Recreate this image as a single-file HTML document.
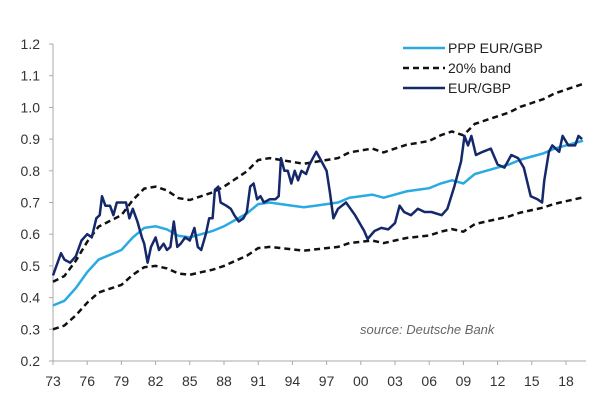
<!DOCTYPE html>
<html><head><meta charset="utf-8"><style>
body{margin:0;background:#fff;}
svg{display:block;font-family:"Liberation Sans",sans-serif;}
</style></head><body>
<svg id="chart" width="610" height="404" viewBox="0 0 610 404"></svg>
<script>
const yTicks=[0.2,0.3,0.4,0.5,0.6,0.7,0.8,0.9,1.0,1.1,1.2];
const xTickYears=[1973,1976,1979,1982,1985,1988,1991,1994,1997,2000,2003,2006,2009,2012,2015,2018];
const xTickLabels=["73","76","79","82","85","88","91","94","97","00","03","06","09","12","15","18"];
const pppYears=[1973,1974,1975,1976,1977,1978,1979,1980,1981,1982,1983,1984,1985,1986,1987,1988,1989,1990,1991,1992,1993,1994,1995,1996,1997,1998,1999,2000,2001,2002,2003,2004,2005,2006,2007,2008,2009,2010,2011,2012,2013,2014,2015,2016,2017,2018,2019.5];
const pppValues=[0.375,0.39,0.43,0.48,0.52,0.535,0.55,0.59,0.62,0.625,0.615,0.595,0.59,0.60,0.61,0.625,0.645,0.665,0.695,0.70,0.695,0.69,0.685,0.69,0.695,0.70,0.715,0.72,0.725,0.715,0.725,0.735,0.74,0.745,0.76,0.77,0.76,0.79,0.80,0.81,0.82,0.835,0.845,0.855,0.87,0.88,0.895];
const bandPct=0.2;
const fxYears=[1973.0,1973.3,1973.7,1974.0,1974.5,1975.0,1975.5,1976.0,1976.4,1976.8,1977.1,1977.3,1977.6,1978.0,1978.3,1978.6,1979.0,1979.4,1979.7,1980.0,1980.4,1980.8,1981.0,1981.3,1981.6,1982.0,1982.3,1982.7,1983.0,1983.3,1983.6,1983.9,1984.2,1984.6,1985.0,1985.4,1985.7,1986.0,1986.4,1986.7,1987.0,1987.2,1987.5,1987.7,1988.2,1988.6,1988.9,1989.3,1989.7,1990.0,1990.3,1990.6,1990.9,1991.2,1991.5,1992.0,1992.5,1992.8,1993.0,1993.3,1993.6,1993.9,1994.2,1994.5,1994.8,1995.2,1995.5,1995.8,1996.1,1996.4,1996.7,1997.0,1997.3,1997.6,1998.0,1998.7,1999.5,2000.3,2000.6,2001.2,2001.8,2002.4,2003.0,2003.4,2003.8,2004.4,2005.0,2005.6,2006.2,2007.1,2007.6,2008.2,2008.8,2009.1,2009.4,2009.7,2010.1,2010.7,2011.4,2012.0,2012.6,2013.2,2013.8,2014.3,2014.9,2015.5,2015.9,2016.1,2016.5,2016.8,2017.4,2017.7,2018.2,2018.8,2019.1,2019.4];
const fxValues=[0.47,0.50,0.54,0.52,0.51,0.53,0.58,0.60,0.59,0.65,0.66,0.72,0.69,0.69,0.66,0.70,0.70,0.70,0.65,0.68,0.64,0.59,0.57,0.51,0.56,0.59,0.55,0.57,0.55,0.56,0.64,0.56,0.57,0.59,0.58,0.62,0.56,0.55,0.60,0.65,0.65,0.74,0.75,0.70,0.69,0.68,0.66,0.64,0.65,0.67,0.75,0.76,0.71,0.72,0.70,0.71,0.71,0.72,0.84,0.80,0.80,0.76,0.80,0.77,0.80,0.79,0.82,0.84,0.86,0.84,0.82,0.80,0.73,0.65,0.68,0.70,0.66,0.61,0.585,0.61,0.62,0.615,0.635,0.69,0.67,0.66,0.68,0.67,0.67,0.66,0.68,0.75,0.83,0.91,0.88,0.91,0.85,0.86,0.87,0.82,0.81,0.85,0.84,0.81,0.72,0.71,0.70,0.77,0.86,0.88,0.86,0.91,0.88,0.88,0.91,0.90];

const svg=document.getElementById('chart');
const NS='http://www.w3.org/2000/svg';
const X0=53,X1=586,Y0=361,Y1=44;
const xs=y=>X0+(y-1973)*11.4;
const ys=v=>Y0-(v-0.2)/1.0*(Y0-Y1);
function mk(tag,attrs){const e=document.createElementNS(NS,tag);for(const k in attrs)e.setAttribute(k,attrs[k]);svg.appendChild(e);return e;}
function pathD(xa,va){return xa.map((x,i)=>(i?'L':'M')+xs(x).toFixed(1)+','+ys(va[i]).toFixed(1)).join('');}

let ax=mk('line',{x1:X0,y1:Y1,x2:X0,y2:Y0,stroke:'#aaa','stroke-width':1});

let bx=mk('line',{x1:X0,y1:Y0,x2:X1,y2:Y0,stroke:'#aaa','stroke-width':1});

yTicks.forEach(v=>{
  mk('line',{x1:X0-4,x2:X0,y1:ys(v),y2:ys(v),stroke:'#aaa'});
  const t=mk('text',{x:40,y:ys(v)+5,'text-anchor':'end','font-size':14,fill:'#333'});
  t.textContent=v.toFixed(1);
  
  
});
xTickYears.forEach((y,i)=>{
  mk('line',{x1:xs(y),x2:xs(y),y1:Y0,y2:Y0+4,stroke:'#aaa'});
  const t=mk('text',{x:xs(y),y:386,'text-anchor':'middle','font-size':14,fill:'#333'});
  t.textContent=xTickLabels[i];
  
  
});
const up=pppValues.map(v=>v*(1+bandPct)), lo=pppValues.map(v=>v*(1-bandPct));
let p1=mk('path',{d:pathD(pppYears,up),fill:'none',stroke:'#111','stroke-width':2.5,'stroke-dasharray':'6,4'});

let p2=mk('path',{d:pathD(pppYears,lo),fill:'none',stroke:'#111','stroke-width':2.5,'stroke-dasharray':'6,4'});

let p3=mk('path',{d:pathD(pppYears,pppValues),fill:'none',stroke:'#29abe2','stroke-width':2.5});

let p4=mk('path',{d:pathD(fxYears,fxValues),fill:'none',stroke:'#14286b','stroke-width':2.5,'stroke-linejoin':'round'});


const leg=[['PPP EUR/GBP','#29abe2',null,48],['20% band','#111','6,4',68],['EUR/GBP','#14286b',null,88]];
leg.forEach(l=>{
  const ln=mk('line',{x1:403,x2:445,y1:l[3],y2:l[3],stroke:l[1],'stroke-width':2.5});
  if(l[2])ln.setAttribute('stroke-dasharray',l[2]);
  
  
  const t=mk('text',{x:448,y:l[3]+5,'font-size':14,fill:'#222'});
  t.textContent=l[0];
  
  
});
const src=mk('text',{x:360,y:334,'font-size':13,'font-style':'italic',fill:'#666'});
src.textContent='source: Deutsche Bank';


</script>
</body></html>
